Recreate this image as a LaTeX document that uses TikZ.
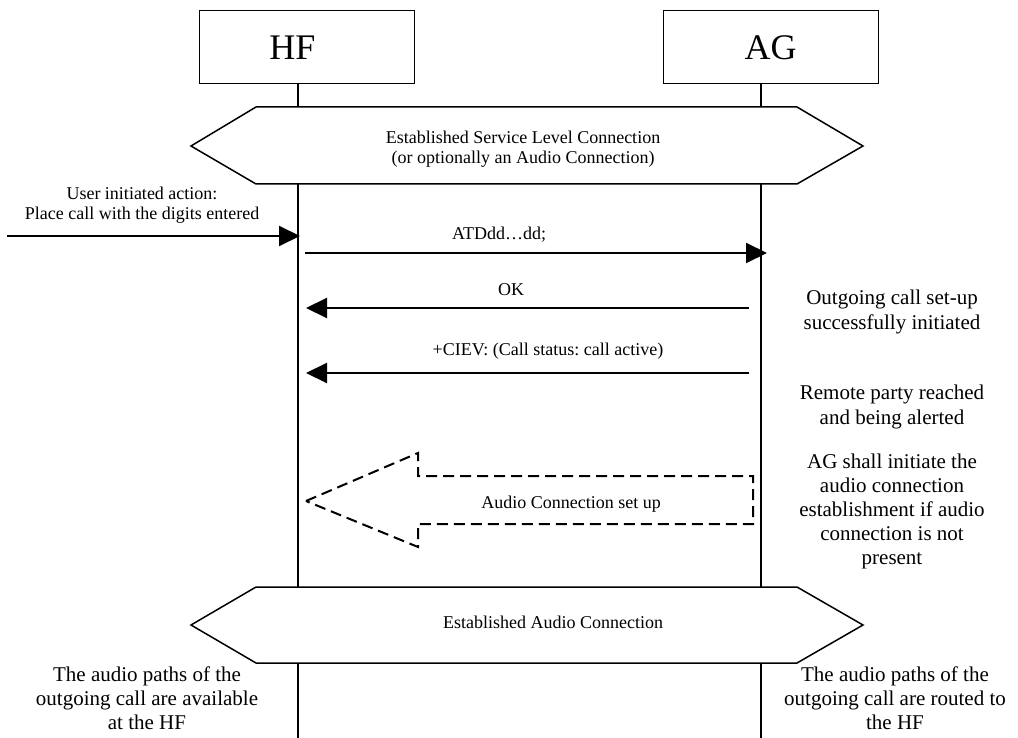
\documentclass[tikz,border=0pt]{standalone}
\usepackage{fontspec}
\setmainfont{Liberation Serif}
\usetikzlibrary{arrows.meta}
\frenchspacing

\begin{document}
\begin{tikzpicture}[x=1pt,y=-1pt,
  entity/.style={draw, line width=1pt, minimum width=215pt, minimum height=73pt,
                 inner sep=0pt, font=\fontsize{36}{40}\selectfont},
  lifeline/.style={line width=2pt},
  phase/.style={draw, line width=1.5pt, fill=white},
  msg/.style={line width=2pt, -{Triangle[length=21pt,width=20pt]}},
  lbl/.style={font=\fontsize{18}{20}\selectfont, inner sep=0pt, anchor=base},
  phasetext/.style={font=\fontsize{18}{20}\selectfont, inner sep=0pt, align=center},
  note/.style={font=\fontsize{21}{25}\selectfont, inner sep=0pt, align=center},
  dashbox/.style={draw, line width=2pt, dash pattern=on 11pt off 6pt}
]
\useasboundingbox[fill=white] (0,0) rectangle (1018,738);

% entities
\node[entity] (hf) at (306.5,47.5) {HF\hspace*{28pt}};
\node[entity] (ag) at (770.5,47.5) {AG};

% lifelines
\coordinate (hfTop) at (298,84);
\coordinate (hfEnd) at (298,738);
\coordinate (agTop) at (761,84);
\coordinate (agEnd) at (761,738);
\draw[lifeline] (hfTop) -- (hfEnd);
\draw[lifeline] (agTop) -- (agEnd);

% service level connection
\draw[phase] (191,146) -- (256,107) -- (797,107) -- (863,146) -- (797,184) -- (256,184) -- cycle;
\node[phasetext] (slc) at (523,149) {Established Service Level Connection\\(or optionally an Audio Connection)};

% user action
\coordinate (userStart) at (7,236);
\coordinate (userEnd) at (300,236);
\draw[msg] (userStart) -- (userEnd);
\node[phasetext] (useract) at (142,205) {User initiated action:\\Place call with the digits entered};

% ATD
\coordinate (atdS) at (305,253);
\coordinate (atdE) at (767,253);
\draw[msg] (atdS) -- (atdE);
\node[lbl] (atdL) at (499,240) {ATDdd…dd;};

% OK
\coordinate (okS) at (749,308);
\coordinate (okE) at (306,308);
\draw[msg] (okS) -- (okE);
\node[lbl] (okL) at (511,296) {OK};
\node[note] (okN) at (892,312) {Outgoing call set-up\\successfully initiated};

% +CIEV
\coordinate (cievS) at (749,373);
\coordinate (cievE) at (306,373);
\draw[msg] (cievS) -- (cievE);
\node[lbl] (cievL) at (548,355) {+CIEV: (Call status: call active)};
\node[note] (cievN) at (892,407) {Remote party reached\\and being alerted};

% audio connection set up
\draw[dashbox] (306,501) -- (418,453) -- (418,476) -- (753,476) -- (753,524) -- (418,524) -- (418,547) -- cycle;
\node[phasetext] (acs) at (571,504) {Audio Connection set up};
\node[note, font=\fontsize{21}{24}\selectfont] (acsN) at (892,511) {AG shall initiate the\\audio connection\\establishment if audio\\connection is not\\present};

% established audio connection
\draw[phase] (191,625) -- (256,587) -- (797,587) -- (863,625) -- (797,663) -- (256,663) -- cycle;
\node[lbl] (eac) at (553,628) {Established Audio Connection};

\node[note, font=\fontsize{21}{24}\selectfont] (hfN) at (147,698) {The audio paths of the\\outgoing call are available\\at the HF};
\node[note, font=\fontsize{21}{24}\selectfont] (agN) at (895,698) {The audio paths of the\\outgoing call are routed to\\the HF};
\end{tikzpicture}
\end{document}
